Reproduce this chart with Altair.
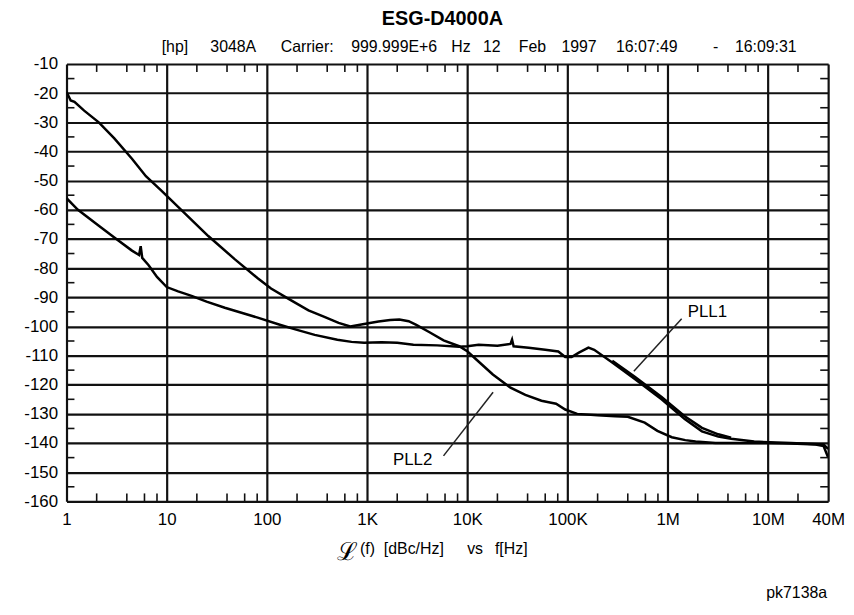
import altair as alt
import pandas as pd

# ---------------- data ----------------
pll1_f = [1.0, 1.3, 2.1, 3.0, 4.5, 5.3, 5.5, 5.7, 6.6, 8.0, 10, 13, 17.7, 25, 38, 65, 81,
          137, 200, 300, 505, 700, 935, 1400, 2000, 2900, 5000, 8300, 10000, 13000,
          20000, 27000, 28000, 29000, 41000, 60000, 81000, 95000, 110000, 130000,
          162000, 185000, 280000, 470000, 870000, 1.48e6, 2.2e6, 3.2e6, 4.3e6, 7.3e6,
          1.7e7, 3.6e7, 4.0e7]
pll1_db = [-56, -60, -65.5, -69.5, -74, -75.5, -72.5, -76.5, -79, -83, -86.5, -88, -89.5,
           -91.5, -93.6, -96, -97, -99.5, -101.2, -102.9, -104.6, -105.3, -105.6, -105.4,
           -105.6, -106.3, -106.5, -107, -106.8, -106.3, -106.6, -106, -104.5, -106.8,
           -107.3, -108, -108.6, -110.5, -110.5, -109, -107.3, -108, -112.4, -118, -125,
           -131.8, -136, -137.8, -138.5, -139.5, -140, -140.5, -142]

# second (repeat) PLL1 trace, visible where it separates from the first
pll1b_f = [280000, 470000, 870000, 1.48e6, 2.2e6, 3.2e6, 4.3e6]
pll1b_db = [-111.8, -117.3, -124.2, -130.8, -134.8, -137.0, -138.2]

pll2_f = [1.0, 1.1, 1.2, 1.5, 2.1, 3.0, 4.5, 6.2, 8.9, 13, 26, 48, 81, 110, 173, 260, 375,
          520, 680, 935, 1300, 1700, 2100, 2600, 3100, 4200, 5800, 8300, 10000, 12000,
          18000, 27000, 38000, 55000, 65000, 77000, 95000, 125000, 200000, 300000,
          400000, 590000, 790000, 1.1e6, 1.5e6, 1.9e6, 3.0e6, 5.7e6, 1.0e7, 1.7e7,
          3.0e7, 3.6e7, 4.0e7]
pll2_db = [-19.5, -22.5, -23, -26, -30, -35.5, -42.5, -48.5, -53.5, -59, -69, -77, -83.5,
           -87, -91, -94.5, -96.7, -98.8, -100, -99.2, -98.3, -97.8, -97.6, -98.2, -99.5,
           -102, -104.8, -106.8, -108.5, -111, -116.5, -121, -123.5, -125.5, -126, -126.5,
           -128.5, -130, -130.5, -130.8, -131, -133, -135.8, -138, -139, -139.5, -140,
           -140, -140, -140.2, -140.5, -141, -145]

x_ticks = [1, 10, 100, 1e3, 1e4, 1e5, 1e6, 1e7, 4e7]
x_labels = ["1", "10", "100", "1K", "10K", "100K", "1M", "10M", "40M"]
y_ticks = [-10, -20, -30, -40, -50, -60, -70, -80, -90, -100, -110, -120, -130, -140, -150, -160]
x_minor = [2.0, 4.0, 6.0, 8.0, 20.0, 40.0, 60.0, 80.0, 200.0, 400.0, 600.0, 800.0,
           2e3, 4e3, 6e3, 8e3, 2e4, 4e4, 6e4, 8e4, 2e5, 4e5, 6e5, 8e5,
           2e6, 4e6, 6e6, 8e6, 2e7]
y_minor = [-15.0, -25.0, -35.0, -45.0, -55.0, -65.0, -75.0, -85.0, -95.0, -105.0, -115.0,
           -125.0, -135.0, -145.0, -155.0]

title_text = "ESG-D4000A"
subtitle_tokens = ["[hp]", "3048A", "Carrier:", "999.999E+6", "Hz", "12", "Feb", "1997",
                   "16:07:49", "-", "16:09:31"]
xtitle_tokens = ["(f)", "[dBc/Hz]", "vs", "f[Hz]"]
fig_id = "pk7138a"

labels = ["PLL1", "PLL2"]
label_f = [2.49e6, 2.85e3]
label_db = [-95.0, -146.0]
lead_f1 = [1.38e6, 1.81e4]
lead_db1 = [-97.4, -122.6]
lead_f2 = [4.6e5, 5.79e3]
lead_db2 = [-115.4, -144.4]

# ---------------- layout ----------------
W, H = 768, 441
FONT = "Liberation Sans"
F_MIN, F_MAX, D_MIN, D_MAX = 1.0, 4e7, -160.0, -10.0
DECADES = 7.602
TICK_DB = 8 * 150 / H                    # tick length, 8 px, in dB
TICK_FAC = 10 ** (8 * DECADES / W)        # tick length, 8 px, as a frequency factor
HALF_DB = 0.8 * 150 / H                  # half tick thickness in dB
HALF_FAC = 10 ** (0.8 * DECADES / W)      # half tick thickness as a frequency factor
sub_x = [96, 145, 216, 287, 388, 420, 456, 499, 554, 652, 674]
xt_x = [296, 320, 404, 432]

lines_df = pd.DataFrame({
    "f": pll1_f + pll1b_f + pll2_f,
    "db": pll1_db + pll1b_db + pll2_db,
    "s": ["PLL1"] * len(pll1_f) + ["PLL1b"] * len(pll1b_f) + ["PLL2"] * len(pll2_f),
})

expr = " : ".join(f"datum.value == {v} ? '{l}'" for v, l in zip(x_ticks, x_labels)) + " : ''"

xscale = alt.Scale(type="log", domain=[F_MIN, F_MAX], nice=False)
yscale = alt.Scale(domain=[D_MIN, D_MAX], nice=False, zero=False)

xaxis = alt.Axis(values=x_ticks, labelExpr=expr, grid=True, ticks=False, domain=False,
                 title=None, labelFont=FONT, labelFontSize=17, labelColor="black",
                 labelPadding=10, labelFlush=False, labelOverlap=False, labelBound=False,
                 gridColor="#111", gridWidth=2.2, gridOpacity=1)
yaxis = alt.Axis(values=y_ticks, labelExpr="'-' + (-datum.value)", grid=True, ticks=False,
                 domain=False, title=None,
                 labelFont=FONT, labelFontSize=17, labelColor="black", labelPadding=9,
                 labelFlush=False, labelOverlap=False, labelBound=False,
                 gridColor="#111", gridWidth=2.2, gridOpacity=1)

X = lambda fld: alt.X(fld, scale=xscale, axis=xaxis)
Y = lambda fld: alt.Y(fld, scale=yscale, axis=yaxis)

lines = alt.Chart(lines_df).mark_line(color="black", strokeWidth=2.5, clip=True).encode(
    x=X("f:Q"), y=Y("db:Q"), detail="s:N")

# inside minor ticks as thin filled rectangles, placed through the scales
rf1, rf2, rd1, rd2 = [], [], [], []
for fv in x_minor:
    rf1 += [fv / HALF_FAC, fv / HALF_FAC]; rf2 += [fv * HALF_FAC, fv * HALF_FAC]
    rd1 += [D_MAX, D_MIN]; rd2 += [D_MAX - TICK_DB, D_MIN + TICK_DB]
for dv in y_minor:
    rf1 += [F_MIN, F_MAX / TICK_FAC]; rf2 += [F_MIN * TICK_FAC, F_MAX]
    rd1 += [dv + HALF_DB, dv + HALF_DB]; rd2 += [dv - HALF_DB, dv - HALF_DB]
rect_df = pd.DataFrame({"rf1": rf1, "rf2": rf2, "rd1": rd1, "rd2": rd2})
minor = alt.Chart(rect_df).mark_rect(color="#111", opacity=1).encode(
    x=X("rf1:Q"), x2="rf2:Q", y=Y("rd1:Q"), y2="rd2:Q")

lead_df = pd.DataFrame({"f1": lead_f1, "d1": lead_db1, "f2": lead_f2, "d2": lead_db2})
leaders = alt.Chart(lead_df).mark_rule(color="#222", strokeWidth=1.5).encode(
    x=X("f1:Q"), x2="f2:Q", y=Y("d1:Q"), y2="d2:Q")

lab_df = pd.DataFrame({"t": labels, "f": label_f, "db": label_db})
lab_text = alt.Chart(lab_df).mark_text(font=FONT, fontSize=17, color="black",
                                       baseline="middle", align="center").encode(
    x=X("f:Q"), y=Y("db:Q"), text="t:N")


def txt(s, x, y, size, align="left", weight="normal", font=FONT):
    return alt.Chart(pd.DataFrame({"t": [s]})).mark_text(
        font=font, fontSize=size, fontWeight=weight, color="black", align=align,
        baseline="alphabetic").encode(x=alt.value(x), y=alt.value(y), text="t:N")


texts = [txt(title_text, 379, -39, 20, align="center", weight="bold")]
for tok, xx in zip(subtitle_tokens, sub_x):
    texts.append(txt(tok, xx, -12, 16))
texts.append(txt("\u2112", 283, 500, 25, align="center", font="DejaVu Serif"))
for tok, xx in zip(xtitle_tokens, xt_x):
    texts.append(txt(tok, xx, 494, 16))
texts.append(txt(fig_id, 767, 538, 16, align="right"))

chart = alt.layer(lines, leaders, lab_text, *texts, minor).properties(
    width=W, height=H,
    autosize=alt.AutoSizeParams(type="none"),
    padding={"left": 59, "top": 54, "right": 18, "bottom": 98},
).configure_view(stroke="#111", strokeWidth=2.5).configure(background="white")

chart.save("out.html", embed_options={"renderer": "svg", "actions": False})
